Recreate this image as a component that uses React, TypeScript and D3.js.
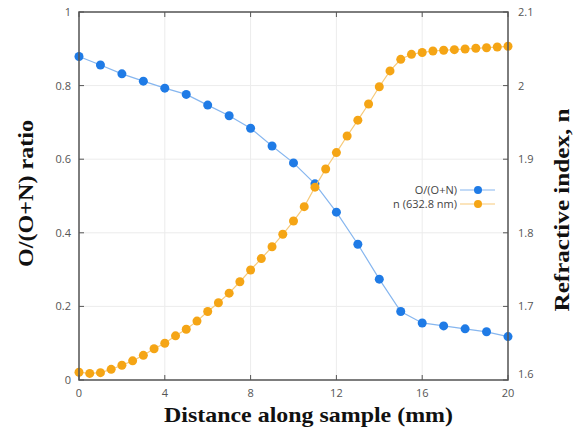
import React from "react";
import * as d3 from "d3";

// O/(O+N) ratio, sampled every 1 mm
const ratioX = [0, 1, 2, 3, 4, 5, 6, 7, 8, 9, 10, 11, 12, 13, 14, 15, 16, 17, 18, 19, 20];
const ratioY = [0.879, 0.856, 0.832, 0.812, 0.793, 0.776, 0.747, 0.718, 0.684, 0.636, 0.59, 0.533, 0.456, 0.369, 0.274, 0.186, 0.155, 0.147, 0.139, 0.131, 0.118];

// refractive index at 632.8 nm, sampled every 0.5 mm
const indexX = [0, 0.5, 1, 1.5, 2, 2.5, 3, 3.5, 4, 4.5, 5, 5.5, 6, 6.5, 7, 7.5, 8, 8.5, 9, 9.5, 10, 10.5, 11, 11.5, 12, 12.5, 13, 13.5, 14, 14.5, 15, 15.5, 16, 16.5, 17, 17.5, 18, 18.5, 19, 19.5, 20];
const indexY = [1.6105, 1.609, 1.61, 1.6145, 1.62, 1.626, 1.6335, 1.6425, 1.65, 1.66, 1.669, 1.68, 1.693, 1.705, 1.718, 1.7335, 1.7495, 1.765, 1.781, 1.798, 1.816, 1.8355, 1.862, 1.8867, 1.909, 1.9315, 1.953, 1.975, 1.9985, 2.02, 2.0357, 2.0425, 2.045, 2.047, 2.048, 2.0488, 2.0497, 2.0507, 2.0515, 2.0524, 2.0534];

const xTicks = [0, 4, 8, 12, 16, 20];
const leftTicks = [0, 0.2, 0.4, 0.6, 0.8, 1];
const rightTicks = [1.6, 1.7, 1.8, 1.9, 2, 2.1];

const W = 576, H = 436;
const m = { left: 79, right: 508, top: 12, bottom: 380 };

const blue = "#1f7be6", blueLine = "#86b6ef";
const orange = "#f5a515", orangeLine = "#f7ca7a";

export default function App() {
  const x = d3.scaleLinear().domain([0, 20]).range([m.left, m.right]);
  const yL = d3.scaleLinear().domain([0, 1]).range([m.bottom, m.top]);
  const yR = d3.scaleLinear().domain([1.6, 2.1]).range([m.bottom, m.top]);

  const ratioLine = d3.line<number>().x((d, i) => x(ratioX[i])).y(d => yL(d));
  const indexLine = d3.line<number>().x((d, i) => x(indexX[i])).y(d => yR(d));

  const tickFont = { fontFamily: "'Open Sans', sans-serif", fontSize: 11, fill: "#555" };
  const titleFont = { fontFamily: "'Liberation Serif', serif", fontWeight: 700, fill: "#111" };

  return (
    <svg width={W} height={H} style={{ position: "absolute", left: 0, top: 0, background: "#fff" }}>
      {/* grid */}
      {xTicks.map(t => (
        <line key={"gx" + t} x1={x(t)} x2={x(t)} y1={m.top} y2={m.bottom} stroke="#ececec" />
      ))}
      {leftTicks.map(t => (
        <line key={"gy" + t} x1={m.left} x2={m.right} y1={yL(t)} y2={yL(t)} stroke="#ececec" />
      ))}

      {/* series */}
      <path d={ratioLine(ratioY) || ""} fill="none" stroke={blueLine} strokeWidth={1.2} />
      {ratioY.map((v, i) => (
        <circle key={"b" + i} cx={x(ratioX[i])} cy={yL(v)} r={4.5} fill={blue} />
      ))}
      <path d={indexLine(indexY) || ""} fill="none" stroke={orangeLine} strokeWidth={1.2} />
      {indexY.map((v, i) => (
        <circle key={"o" + i} cx={x(indexX[i])} cy={yR(v)} r={4.5} fill={orange} />
      ))}

      {/* frame */}
      <rect x={m.left} y={m.top} width={m.right - m.left} height={m.bottom - m.top} fill="none" stroke="#555" strokeWidth={1.5} />
      {xTicks.map(t => (
        <g key={"tx" + t}>
          <line x1={x(t)} x2={x(t)} y1={m.bottom} y2={m.bottom - 5} stroke="#555" />
          <line x1={x(t)} x2={x(t)} y1={m.top} y2={m.top + 5} stroke="#555" />
          <text x={x(t)} y={m.bottom + 17} textAnchor="middle" {...tickFont}>{t}</text>
        </g>
      ))}
      {leftTicks.map(t => (
        <g key={"tl" + t}>
          <line x1={m.left} x2={m.left + 5} y1={yL(t)} y2={yL(t)} stroke="#555" />
          <text x={m.left - 8} y={yL(t) + 4} textAnchor="end" {...tickFont}>{t}</text>
        </g>
      ))}
      {rightTicks.map(t => (
        <g key={"tr" + t}>
          <line x1={m.right} x2={m.right - 5} y1={yR(t)} y2={yR(t)} stroke="#555" />
          <text x={m.right + 10} y={yR(t) + 4 - (t === 1.6 ? 6 : 0)} textAnchor="start" {...tickFont}>{t}</text>
        </g>
      ))}

      {/* legend */}
      <g>
        <text x={457} y={194} textAnchor="end" fontFamily="'Open Sans', sans-serif" fontSize={11} fill="#444">O/(O+N)</text>
        <line x1={460} x2={495} y1={190} y2={190} stroke={blueLine} strokeWidth={1.2} />
        <circle cx={478} cy={190} r={4} fill={blue} />
        <text x={457} y={208} textAnchor="end" fontFamily="'Open Sans', sans-serif" fontSize={11} fill="#444">n (632.8 nm)</text>
        <line x1={460} x2={495} y1={204} y2={204} stroke={orangeLine} strokeWidth={1.2} />
        <circle cx={478} cy={204} r={4} fill={orange} />
      </g>

      {/* titles */}
      <text x={308.5} y={421.5} textAnchor="middle" {...titleFont} fontSize={22} textLength={289} lengthAdjust="spacingAndGlyphs">Distance along sample (mm)</text>
      <text transform={`translate(33,193.5) rotate(-90)`} textAnchor="middle" {...titleFont} fontSize={20} textLength={147} lengthAdjust="spacingAndGlyphs">O/(O+N) ratio</text>
      <text transform={`translate(569,210) rotate(-90)`} textAnchor="middle" {...titleFont} fontSize={21} textLength={203} lengthAdjust="spacingAndGlyphs">Refractive index, n</text>
    </svg>
  );
}
